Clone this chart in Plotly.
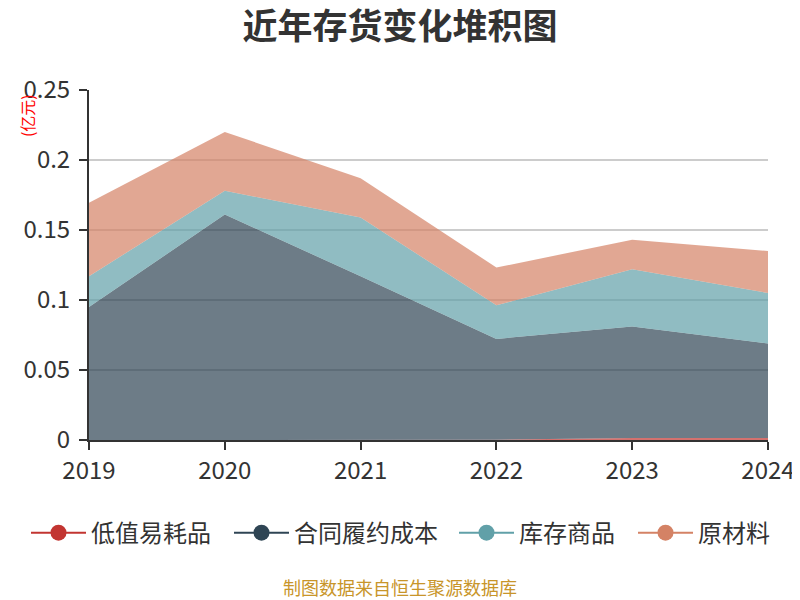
import plotly.graph_objects as go

years = [2019, 2020, 2021, 2022, 2023, 2024]
low_value = [0, 0, 0, 0.0002, 0.0015, 0.0015]          # 低值易耗品
contract_cost = [0.095, 0.161, 0.117, 0.072, 0.0795, 0.0675]  # 合同履约成本
goods = [0.022, 0.017, 0.042, 0.024, 0.041, 0.036]       # 库存商品
materials = [0.0525, 0.042, 0.028, 0.027, 0.021, 0.030]  # 原材料

series = [
    ("低值易耗品", low_value, "#c23531", "rgba(194,53,49,0.7)"),
    ("合同履约成本", contract_cost, "#2f4554", "rgba(47,69,84,0.7)"),
    ("库存商品", goods, "#61a0a8", "rgba(97,160,168,0.7)"),
    ("原材料", materials, "#d48265", "rgba(212,130,101,0.7)"),
]

FONT = "Noto Sans CJK SC"
W, H = 792, 592  # page has an 8px body margin
L, R, T, B = 81, 32, 82, 160
PW = W - L - R

fig = go.Figure()

# stacked areas
for name, vals, color, fill in series:
    fig.add_trace(
        go.Scatter(
            x=years,
            y=vals,
            name=name,
            mode="lines",
            stackgroup="one",
            line=dict(width=0, color=color),
            fillcolor=fill,
            showlegend=False,
            hoverinfo="x+y+name",
        )
    )

# legend entries (line + dot), one legend each so they sit where the reference has them
legend_names = ["legend", "legend2", "legend3", "legend4"]
legend_left = [18, 221, 446, 625]
for (name, vals, color, fill), lg in zip(series, legend_names):
    fig.add_trace(
        go.Scatter(
            x=[None],
            y=[None],
            name=name,
            mode="lines+markers",
            line=dict(color=color, width=2),
            marker=dict(color=color, size=20),
            showlegend=True,
            legend=lg,
        )
    )

legend_style = dict(
    orientation="h",
    xref="paper",
    yref="paper",
    xanchor="left",
    y=-0.266,
    yanchor="middle",
    itemwidth=55,
    font=dict(size=24, color="#333333"),
    bgcolor="rgba(0,0,0,0)",
)

fig.update_layout(
    width=W,
    height=H,
    margin=dict(l=L, r=R, t=T, b=B, autoexpand=False),
    plot_bgcolor="white",
    paper_bgcolor="white",
    font=dict(family=FONT, color="#333333"),
    title=dict(
        text="<b>近年存货变化堆积图</b>",
        x=392 / W,
        xanchor="center",
        y=0.969,
        yanchor="middle",
        font=dict(size=35, color="#333333", family=FONT),
    ),
    annotations=[
        dict(
            text="(亿元)",
            textangle=-90,
            xref="paper",
            yref="paper",
            x=-0.091,
            y=0.926,
            xanchor="center",
            yanchor="middle",
            showarrow=False,
            font=dict(size=16, color="red"),
        ),
        dict(
            text="制图数据来自恒生聚源数据库",
            xref="paper",
            yref="paper",
            x=(392 - L) / PW,
            y=-0.42,
            xanchor="center",
            yanchor="middle",
            showarrow=False,
            font=dict(size=18, color="#c8952a"),
        ),
    ],
)

for lg, left in zip(legend_names, legend_left):
    fig.update_layout({lg: dict(legend_style, x=(left - L) / PW)})

fig.update_xaxes(
    range=[2019, 2024],
    tickvals=years,
    ticktext=[str(y) for y in years],
    showgrid=False,
    showline=True,
    linecolor="#333333",
    linewidth=2,
    ticks="outside",
    ticklen=8,
    tickwidth=2,
    tickcolor="#333333",
    tickfont=dict(size=24, color="#333333"),
    zeroline=False,
)

fig.update_yaxes(
    range=[0, 0.25],
    tickvals=[0, 0.05, 0.1, 0.15, 0.2, 0.25],
    ticktext=["0", "0.05", "0.1", "0.15", "0.2", "0.25"],
    showgrid=True,
    gridcolor="#cccccc",
    gridwidth=1.5,
    showline=True,
    linecolor="#333333",
    linewidth=2,
    ticks="outside",
    ticklen=8,
    tickwidth=2,
    tickcolor="#333333",
    ticklabelstandoff=4,
    tickfont=dict(size=24, color="#333333"),
    zeroline=False,
)

fig.write_html("out.html")
